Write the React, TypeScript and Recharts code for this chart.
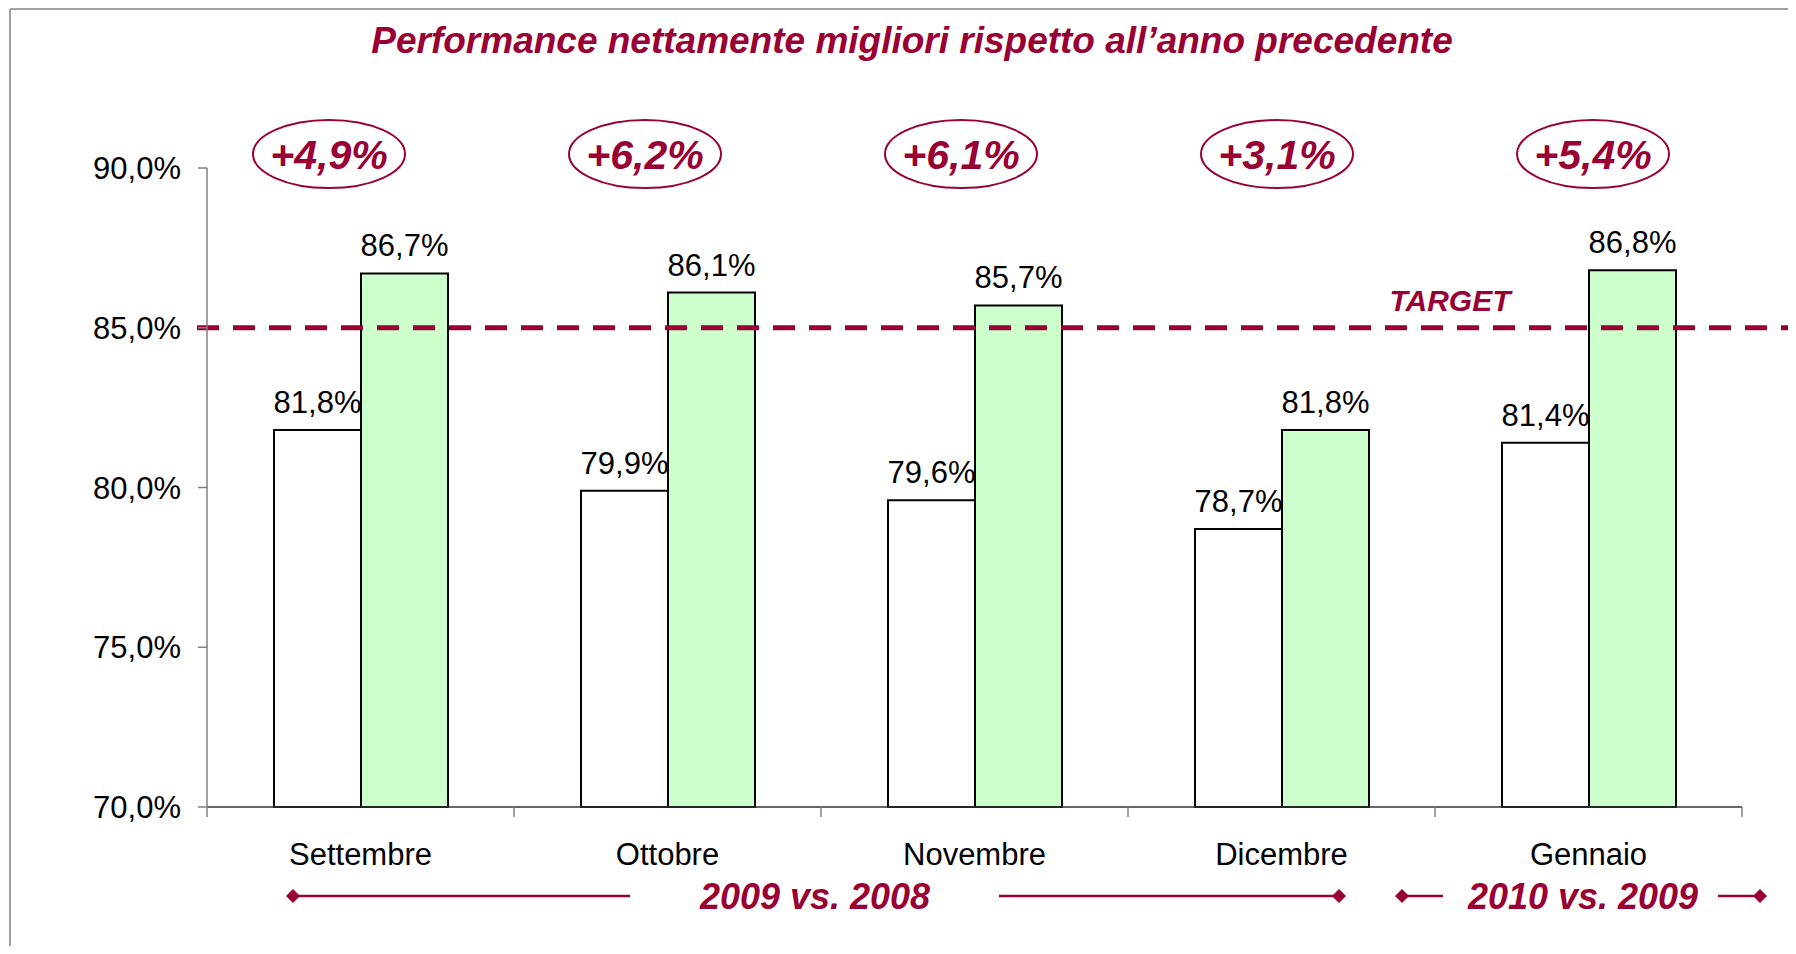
import React from 'react';
import {
    BarChart,
    Bar,
    XAxis,
    YAxis,
    LabelList,
    ReferenceLine,
    ReferenceDot,
} from 'recharts';

const categories = ['Settembre', 'Ottobre', 'Novembre', 'Dicembre', 'Gennaio'];
const prevYear = [81.8, 79.9, 79.6, 78.7, 81.4];
const currYear = [86.7, 86.1, 85.7, 81.8, 86.8];
const deltas = [4.9, 6.2, 6.1, 3.1, 5.4];
const yTicks = [70, 75, 80, 85, 90];
const target = 85;

const data = categories.map((name, i) => ({ name, prev: prevYear[i], curr: currYear[i] }));

const W = 1780;
const H = 938;
const margin = { top: 160, right: 46, bottom: 79, left: 0 };
const Y_W = 199;
const BAND = (W - margin.left - Y_W - margin.right) / categories.length;
const MAROON = '#990033';
const FONT = '"Liberation Sans", Arial, sans-serif';

const pct = (v: number) => v.toFixed(1).replace('.', ',') + '%';

const XTick = (props: any) => {
    const { x, y, payload, index } = props;
    const axisY = y - 36;
    return (
        <g>
            <line x1={x - BAND / 2} x2={x - BAND / 2} y1={axisY} y2={axisY + 10} stroke="#808080" strokeWidth={1.5} />
            {index === categories.length - 1 && (
                <line x1={x + BAND / 2} x2={x + BAND / 2} y1={axisY} y2={axisY + 10} stroke="#808080" strokeWidth={1.5} />
            )}
            <text x={x} y={y} dy="0.71em" textAnchor="middle" fontSize={31} fontFamily={FONT} fill="#000">
                {payload.value}
            </text>
        </g>
    );
};

const TargetLine = (props: any) => {
    const { x1, y1, x2 } = props;
    return (
        <g>
            <line x1={x1 - 10} x2={W} y1={y1} y2={y1} stroke={MAROON} strokeWidth={5} strokeDasharray="22 14" />
            <text x={x2 - 292} y={y1 - 17} textAnchor="middle" fontSize={30} fontWeight="bold" fontStyle="italic" fontFamily={FONT} fill={MAROON}>
                TARGET
            </text>
        </g>
    );
};

const deltaBubble = (i: number) => (props: any) => {
    const cx = props.cx + (-31.5 + 9 * i);
    const cy = props.cy - 14;
    return (
        <g>
            <ellipse cx={cx} cy={cy} rx={76} ry={34} fill="#fff" stroke={MAROON} strokeWidth={2} />
            <text x={cx} y={cy + 15} textAnchor="middle" fontSize={41} fontWeight="bold" fontStyle="italic" fontFamily={FONT} fill={MAROON}>
                {'+' + deltas[i].toFixed(1).replace('.', ',') + '%'}
            </text>
        </g>
    );
};

const Diamond = ({ x, y }: { x: number; y: number }) => (
    <path d={`M${x - 7},${y} L${x},${y - 7} L${x + 7},${y} L${x},${y + 7} Z`} fill={MAROON} />
);

const Annotations = () => {
    const ay = 888;
    return (
        <svg width={W} height={H} style={{ position: 'absolute', left: 0, top: 0, pointerEvents: 'none' }}>
            <line x1={2} y1={1} x2={W} y2={1} stroke="#a0a0a0" strokeWidth={2} />
            <line x1={2} y1={1} x2={2} y2={H} stroke="#a0a0a0" strokeWidth={2} />
            <text x={904} y={45} textAnchor="middle" fontSize={37} fontWeight="bold" fontStyle="italic" fontFamily={FONT} fill={MAROON}>
                Performance nettamente migliori rispetto all’anno precedente
            </text>

            <line x1={285} y1={ay} x2={622} y2={ay} stroke={MAROON} strokeWidth={2.5} />
            <Diamond x={285} y={ay} />
            <text x={807} y={ay + 13} textAnchor="middle" fontSize={36} fontWeight="bold" fontStyle="italic" fontFamily={FONT} fill={MAROON}>
                2009 vs. 2008
            </text>
            <line x1={991} y1={ay} x2={1331} y2={ay} stroke={MAROON} strokeWidth={2.5} />
            <Diamond x={1331} y={ay} />

            <line x1={1394} y1={ay} x2={1435} y2={ay} stroke={MAROON} strokeWidth={2.5} />
            <Diamond x={1394} y={ay} />
            <text x={1575} y={ay + 13} textAnchor="middle" fontSize={36} fontWeight="bold" fontStyle="italic" fontFamily={FONT} fill={MAROON}>
                2010 vs. 2009
            </text>
            <line x1={1710} y1={ay} x2={1752} y2={ay} stroke={MAROON} strokeWidth={2.5} />
            <Diamond x={1752} y={ay} />
        </svg>
    );
};

export default function App() {
    return (
        <div style={{ position: 'relative', width: W, height: H, fontFamily: FONT, background: '#fff' }}>
            <BarChart width={W} height={H} data={data} margin={margin} barGap={0}>
                <XAxis
                    dataKey="name"
                    height={60}
                    tickLine={false}
                    tickSize={10}
                    tickMargin={26}
                    axisLine={{ stroke: '#333', strokeWidth: 1.5 }}
                    tick={(p: any) => <XTick {...p} />}
                    interval={0}
                />
                <YAxis
                    domain={[70, 90]}
                    ticks={yTicks}
                    interval={0}
                    width={Y_W}
                    tickSize={9}
                    tickMargin={17}
                    tickFormatter={pct}
                    axisLine={{ stroke: '#808080', strokeWidth: 1.5 }}
                    tickLine={{ stroke: '#808080', strokeWidth: 1.5 }}
                    tick={{ fontSize: 31, fill: '#000', fontFamily: FONT }}
                />
                <Bar dataKey="prev" fill="#ffffff" stroke="#000" strokeWidth={2} barSize={87} isAnimationActive={false}>
                    <LabelList dataKey="prev" position="top" offset={17} formatter={(v: any) => pct(Number(v))} fill="#000" fontSize={31} fontFamily={FONT} />
                </Bar>
                <Bar dataKey="curr" fill="#ccffcc" stroke="#000" strokeWidth={2} barSize={87} isAnimationActive={false}>
                    <LabelList dataKey="curr" position="top" offset={17} formatter={(v: any) => pct(Number(v))} fill="#000" fontSize={31} fontFamily={FONT} />
                </Bar>
                <ReferenceLine y={target} shape={(p: any) => <TargetLine {...p} />} />
                {categories.map((c, i) => (
                    <ReferenceDot key={c} x={c} y={90} r={0} ifOverflow="visible" shape={deltaBubble(i)} />
                ))}
            </BarChart>
            <Annotations />
        </div>
    );
}
